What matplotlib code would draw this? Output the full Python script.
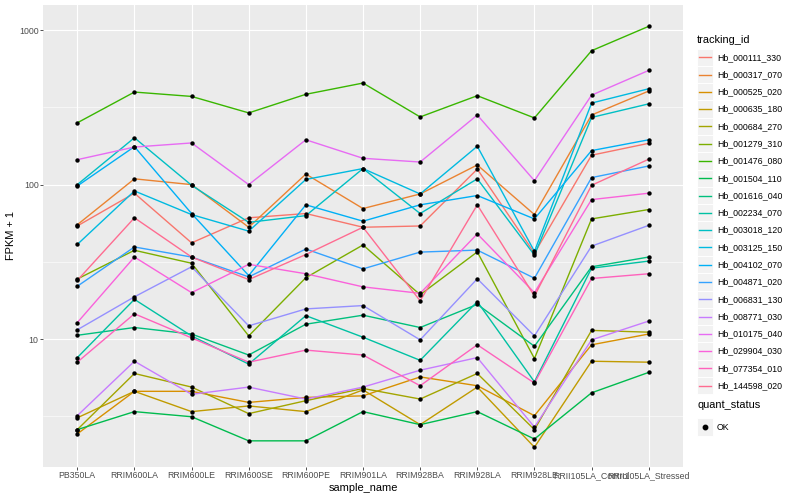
import numpy as np
import matplotlib.pyplot as plt
from matplotlib.patches import Rectangle
from matplotlib.lines import Line2D

plt.rcParams['font.family'] = ['Liberation Sans', 'DejaVu Sans']

samples = ["PB350LA", "RRIM600LA", "RRIM600LE", "RRIM600SE", "RRIM600PE",
           "RRIM901LA", "RRIM928BA", "RRIM928LA", "RRIM928LE",
           "RRII105LA_Control", "RRII105LA_Stressed"]

tracking_ids = ["Hb_000111_330", "Hb_000317_070", "Hb_000525_020", "Hb_000635_180",
                "Hb_000684_270", "Hb_001279_310", "Hb_001476_080", "Hb_001504_110",
                "Hb_001616_040", "Hb_002234_070", "Hb_003018_120", "Hb_003125_150",
                "Hb_004102_070", "Hb_004871_020", "Hb_006831_130", "Hb_008771_030",
                "Hb_010175_040", "Hb_029904_030", "Hb_077354_010", "Hb_144598_020"]

# FPKM + 1, one list per gene, in sample order
hb_000111_330 = [54, 88, 42, 61, 65, 53, 54, 126, 36, 155, 185]
hb_000317_070 = [55, 109, 100, 53, 117, 70, 87, 134, 64, 282, 403]
hb_000525_020 = [2.44, 4.6, 4.6, 3.9, 4.2, 4.3, 5.7, 5.0, 3.2, 9.2, 10.8]
hb_000635_180 = [3.1, 4.6, 3.4, 3.7, 3.4, 4.7, 2.8, 4.9, 2.0, 7.2, 7.1]
hb_000684_270 = [2.6, 6.0, 4.9, 3.3, 4.0, 4.8, 4.1, 6.0, 2.6, 11.4, 11.1]
hb_001279_310 = [24.5, 37.6, 31, 10.5, 25, 40.7, 19.4, 36.7, 7.5, 60, 69]
hb_001476_080 = [251, 397, 372, 291, 384, 454, 274, 376, 270, 735, 1057]
hb_001504_110 = [2.6, 3.4, 3.15, 2.2, 2.2, 3.4, 2.8, 3.4, 2.26, 4.5, 6.1]
hb_001616_040 = [10.6, 11.9, 10.8, 7.9, 12.5, 14.3, 11.9, 16.8, 9.0, 29.4, 34]
hb_002234_070 = [7.6, 18.1, 10.5, 6.9, 14.2, 10.3, 7.3, 17.5, 5.3, 28.8, 32]
hb_003018_120 = [100, 201, 99, 57, 63, 127, 65, 109, 35, 272, 333]
hb_003125_150 = [41, 91, 64, 50, 108, 127, 87, 177, 37, 337, 417]
hb_004102_070 = [98, 176, 65, 25.8, 74, 58, 74, 85, 60, 166, 195]
hb_004871_020 = [22, 39.5, 34, 25.3, 38.3, 28.5, 36.6, 37.7, 24.8, 111, 132]
hb_006831_130 = [11.5, 18.8, 29.4, 12.2, 15.7, 16.5, 9.9, 24.6, 10.5, 40, 54.5]
hb_008771_030 = [3.2, 7.2, 4.4, 4.9, 4.1, 4.9, 6.3, 7.6, 2.7, 9.9, 13.1]
hb_010175_040 = [145, 175, 186, 100, 195, 148, 140, 282, 106, 379, 548]
hb_029904_030 = [12.8, 34, 20, 30.5, 26.5, 21.8, 19.8, 48, 20, 80, 88]
hb_077354_010 = [7.1, 14.6, 10.2, 7.1, 8.5, 7.9, 5.0, 9.2, 5.2, 24.7, 26.5]
hb_144598_020 = [24, 61, 34, 24.3, 35.3, 53, 17.7, 74, 19, 99, 146]

series = [hb_000111_330, hb_000317_070, hb_000525_020, hb_000635_180, hb_000684_270,
          hb_001279_310, hb_001476_080, hb_001504_110, hb_001616_040, hb_002234_070,
          hb_003018_120, hb_003125_150, hb_004102_070, hb_004871_020, hb_006831_130,
          hb_008771_030, hb_010175_040, hb_029904_030, hb_077354_010, hb_144598_020]

# ggplot default hue palette, 20 levels
colors = ["#F8766D", "#EA8331", "#D89000", "#C09B00", "#A3A500", "#7CAE00", "#39B600",
          "#00BB4E", "#00BF7D", "#00C1A3", "#00BFC4", "#00BAE0", "#00B0F6", "#35A2FF",
          "#9590FF", "#C77CFF", "#E76BF3", "#FA62DB", "#FF62BC", "#FF6C91"]

W, H = 800, 500
fig = plt.figure(figsize=(8, 5), dpi=100)
ax = fig.add_axes([43 / W, 1 - 467 / H, 640 / W, 462 / H])
ax.set_facecolor("#EBEBEB")
for s in ax.spines.values():
    s.set_visible(False)

x = np.arange(len(samples))
for vals, col in zip(series, colors):
    ax.plot(x, vals, color=col, lw=1.0, zorder=2)
for vals in series:
    ax.scatter(x, vals, s=10, color="black", lw=0, zorder=3)

ax.set_yscale("log")
ax.set_ylim(1.49, 1452)
ax.set_xlim(-0.6, len(samples) - 0.4)
ax.set_yticks([10, 100, 1000])
ax.set_yticklabels(["10", "100", "1000"])
ax.set_yticks([10 ** 0.5, 10 ** 1.5, 10 ** 2.5], minor=True)
ax.set_yticklabels([], minor=True)
ax.set_xticks(x)
ax.set_xticklabels(samples)
ax.set_axisbelow(True)
ax.grid(which="major", color="white", lw=0.8)
ax.grid(which="minor", axis="y", color="white", lw=0.4)
ax.tick_params(which="major", length=2, width=0.6, color="#333333",
               labelsize=6.3, labelcolor="#4D4D4D", pad=1.2)
ax.tick_params(which="minor", length=0)
ax.set_xlabel("sample_name", fontsize=7.9, labelpad=2)
ax.set_ylabel("FPKM + 1", fontsize=7.9, labelpad=2)


def fx(px):
    return px / W


def fy(py):
    return 1 - py / H


# legend: tracking_id
fig.text(fx(697), fy(40), "tracking_id", fontsize=7.9, va="center", ha="left")
step = 17.28
for i, (tid, col) in enumerate(zip(tracking_ids, colors)):
    yc = 57.3 + i * step
    fig.add_artist(Rectangle((fx(696.5), fy(yc + step / 2)), 16.5 / W, step / H,
                             transform=fig.transFigure, facecolor="#F2F2F2",
                             edgecolor="white", lw=0.7))
    fig.add_artist(Line2D([fx(698.5), fx(711)], [fy(yc), fy(yc)],
                          transform=fig.transFigure, color=col, lw=1.0))
    fig.text(fx(717), fy(yc), tid, fontsize=6.3, va="center", ha="left")

# legend: quant_status
fig.text(fx(697), fy(405), "quant_status", fontsize=7.9, va="center", ha="left")
fig.add_artist(Rectangle((fx(696.5), fy(427 + step / 2)), 16.5 / W, step / H,
                         transform=fig.transFigure, facecolor="#F2F2F2",
                         edgecolor="white", lw=0.7))
fig.add_artist(Line2D([fx(704.7)], [fy(427)], transform=fig.transFigure,
                      marker="o", markersize=3.2, color="black", lw=0))
fig.text(fx(717), fy(427), "OK", fontsize=6.3, va="center", ha="left")

fig.savefig("out.png", dpi=100)
